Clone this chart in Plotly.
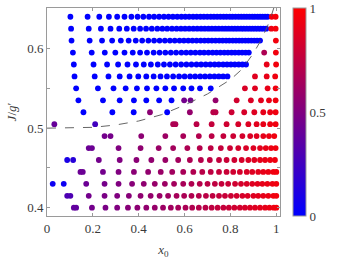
import plotly.graph_objects as go

# ---- data ----
J_values = [0.64, 0.625, 0.61, 0.595, 0.58, 0.565, 0.55, 0.535, 0.52,
            0.505, 0.49, 0.475, 0.46, 0.445, 0.43, 0.415, 0.40]

x_0640 = [0.102, 0.177, 0.228, 0.270, 0.306, 0.338, 0.368, 0.395, 0.420, 0.445, 0.467, 0.489,
          0.510, 0.530, 0.549, 0.568, 0.586, 0.603, 0.620, 0.637, 0.653, 0.669, 0.684, 0.699,
          0.714, 0.728, 0.742, 0.756, 0.770, 0.783, 0.797, 0.809, 0.822, 0.835, 0.847, 0.859,
          0.871, 0.883, 0.895, 0.906, 0.918, 0.929, 0.940, 0.951, 0.962, 0.980, 0.997]
c_0640 = [0] * 45 + [0.93, 0.96]

x_0625 = [0.105, 0.182, 0.235, 0.277, 0.315, 0.348, 0.378, 0.406, 0.432, 0.457, 0.481, 0.503,
          0.524, 0.545, 0.565, 0.584, 0.602, 0.620, 0.638, 0.655, 0.672, 0.688, 0.704, 0.719,
          0.734, 0.749, 0.764, 0.778, 0.792, 0.806, 0.819, 0.832, 0.846, 0.858, 0.871, 0.884,
          0.896, 0.908, 0.920, 0.932, 0.944, 0.956, 0.978, 0.997]
c_0625 = [0] * 42 + [0.93, 0.96]

x_0610 = [0.107, 0.186, 0.240, 0.284, 0.322, 0.356, 0.387, 0.415, 0.442, 0.467, 0.491, 0.514,
          0.536, 0.557, 0.578, 0.597, 0.616, 0.634, 0.652, 0.670, 0.687, 0.703, 0.719, 0.735,
          0.751, 0.766, 0.781, 0.795, 0.810, 0.824, 0.838, 0.851, 0.865, 0.878, 0.891, 0.904,
          0.916, 0.929, 0.998]
c_0610 = [0] * 38 + [0.95]

x_0595 = [0.113, 0.195, 0.252, 0.298, 0.338, 0.374, 0.406, 0.436, 0.465, 0.491, 0.516, 0.540,
          0.563, 0.586, 0.607, 0.627, 0.647, 0.667, 0.685, 0.704, 0.722, 0.739, 0.756, 0.773,
          0.789, 0.805, 0.820, 0.836, 0.851, 0.866, 0.880, 0.947, 0.998]
c_0595 = [0] * 31 + [0.68, 0.95]

x_0580 = [0.117, 0.203, 0.262, 0.310, 0.351, 0.388, 0.422, 0.453, 0.483, 0.510, 0.536, 0.561,
          0.585, 0.608, 0.630, 0.652, 0.672, 0.692, 0.712, 0.731, 0.749, 0.768, 0.785, 0.802,
          0.819, 0.836, 0.852, 0.868, 0.958, 0.999]
c_0580 = [0] * 28 + [0.91, 0.95]

x_0565 = [0.120, 0.208, 0.268, 0.317, 0.360, 0.398, 0.433, 0.465, 0.495, 0.523, 0.550, 0.576,
          0.600, 0.624, 0.646, 0.668, 0.689, 0.710, 0.730, 0.749, 0.768, 0.787,
          0.907, 0.958, 0.995]
c_0565 = [0] * 22 + [0.88, 0.91, 0.94]

x_0550 = [0.127, 0.222, 0.290, 0.343, 0.392, 0.436, 0.477, 0.516, 0.554, 0.594, 0.630, 0.667,
          0.714, 0.863, 0.907, 0.962, 0.997]
c_0550 = [0] * 13 + [0.85, 0.88, 0.91, 0.94]

x_0535 = [0.137, 0.244, 0.317, 0.379, 0.433, 0.489, 0.543, 0.598, 0.626, 0.735,
          0.827, 0.889, 0.933, 0.968, 0.997]
c_0535 = [0, 0, 0, 0, 0, 0, 0, 0.45, 0.45, 0.58, 0.82, 0.86, 0.89, 0.92, 0.94]

x_0520 = [0.159, 0.285, 0.378, 0.449, 0.524, 0.623, 0.725, 0.735,
          0.805, 0.860, 0.904, 0.943, 0.973, 0.997]
c_0520 = [0, 0, 0, 0.55, 0, 0.58, 0.72, 0.72, 0.80, 0.84, 0.87, 0.90, 0.92, 0.94]

x_0505 = [0.032, 0.210, 0.550, 0.560, 0.652, 0.718, 0.783, 0.834, 0.878, 0.914, 0.943, 0.973, 0.997]
c_0505 = [0.40, 0.25, 0.68, 0.68, 0.73, 0.77, 0.81, 0.84, 0.87, 0.89, 0.91, 0.93, 0.94]

x_0490 = [0.251, 0.277, 0.411, 0.516, 0.594, 0.662, 0.718, 0.769, 0.812, 0.852, 0.886, 0.914,
          0.943, 0.968, 0.991]
c_0490 = [0.45, 0.46, 0.55, 0.61, 0.66, 0.70, 0.73, 0.77, 0.80, 0.83, 0.86, 0.88, 0.90, 0.92, 0.94]

x_0475 = [0.182, 0.196, 0.312, 0.408, 0.487, 0.550, 0.612, 0.666, 0.714, 0.758, 0.798, 0.834,
          0.868, 0.900, 0.929, 0.954, 0.977, 0.997]
c_0475 = [0.42, 0.42, 0.50, 0.56, 0.60, 0.64, 0.68, 0.71, 0.74, 0.77, 0.80, 0.83, 0.85, 0.87,
          0.89, 0.91, 0.93, 0.94]

x_0460 = [0.088, 0.114, 0.226, 0.317, 0.390, 0.455, 0.516, 0.572, 0.623, 0.671, 0.710, 0.750,
          0.783, 0.817, 0.849, 0.878, 0.904, 0.929, 0.951, 0.973, 0.994]
c_0460 = [0.10, 0.15, 0.45, 0.50, 0.54, 0.57, 0.60, 0.64, 0.68, 0.71, 0.74, 0.76, 0.79, 0.81,
          0.84, 0.86, 0.88, 0.90, 0.91, 0.93, 0.94]

x_0445 = [0.146, 0.156, 0.244, 0.312, 0.379, 0.441, 0.496, 0.546, 0.594, 0.638, 0.677, 0.714,
          0.750, 0.783, 0.812, 0.841, 0.871, 0.895, 0.921, 0.943, 0.965, 0.987, 1.000]
c_0445 = [0.42, 0.42, 0.45, 0.50, 0.54, 0.57, 0.60, 0.63, 0.66, 0.69, 0.72, 0.74, 0.77, 0.79,
          0.81, 0.83, 0.85, 0.87, 0.89, 0.91, 0.92, 0.94, 0.95]

x_0430 = [0.025, 0.073, 0.171, 0.251, 0.312, 0.371, 0.422, 0.470, 0.514, 0.554, 0.594, 0.630,
          0.666, 0.700, 0.732, 0.761, 0.790, 0.820, 0.846, 0.871, 0.895, 0.918, 0.939, 0.961,
          0.983, 1.000]
c_0430 = [0.05, 0.05, 0.42, 0.46, 0.50, 0.53, 0.56, 0.59, 0.61, 0.64, 0.66, 0.69, 0.71, 0.73,
          0.75, 0.77, 0.79, 0.81, 0.83, 0.85, 0.87, 0.89, 0.90, 0.92, 0.93, 0.95]

x_0415 = [0.088, 0.102, 0.182, 0.251, 0.306, 0.357, 0.408, 0.452, 0.491, 0.528, 0.565, 0.598,
          0.630, 0.662, 0.693, 0.722, 0.750, 0.776, 0.802, 0.827, 0.852, 0.875, 0.900, 0.921,
          0.943, 0.965, 0.987, 1.000]
c_0415 = [0.30, 0.30, 0.45, 0.48, 0.50, 0.53, 0.56, 0.58, 0.60, 0.62, 0.65, 0.67, 0.69, 0.71,
          0.73, 0.75, 0.77, 0.78, 0.80, 0.82, 0.84, 0.86, 0.87, 0.89, 0.90, 0.92, 0.94, 0.95]

x_0400 = [0.117, 0.127, 0.196, 0.255, 0.306, 0.353, 0.394, 0.433, 0.470, 0.506, 0.540, 0.572,
          0.604, 0.633, 0.662, 0.691, 0.718, 0.744, 0.769, 0.793, 0.817, 0.841, 0.863, 0.885,
          0.907, 0.929, 0.951, 0.970, 0.989, 1.000]
c_0400 = [0.38, 0.38, 0.45, 0.48, 0.50, 0.53, 0.55, 0.57, 0.59, 0.61, 0.63, 0.65, 0.67, 0.69,
          0.71, 0.72, 0.74, 0.76, 0.77, 0.79, 0.81, 0.82, 0.84, 0.86, 0.87, 0.89, 0.90, 0.92,
          0.93, 0.95]

# dashed boundary curve
curve_x = [0.0, 0.1, 0.2, 0.3, 0.4, 0.5, 0.6, 0.7, 0.8, 0.85, 0.9, 0.93, 0.96, 0.98, 0.99]
curve_J = [0.5, 0.5003, 0.501, 0.504, 0.509, 0.517, 0.529, 0.543, 0.561, 0.574, 0.594,
           0.609, 0.627, 0.643, 0.652]

x_ticks = [0, 0.2, 0.4, 0.6, 0.8, 1.0]
x_tick_labels = ["0", "0.2", "0.4", "0.6", "0.8", "1"]
y_ticks = [0.4, 0.5, 0.6]
y_tick_labels = ["0.4", "0.5", "0.6"]
cbar_ticks = [0, 0.5, 1]
cbar_labels = ["0", "0.5", "1"]

rows_x = [x_0640, x_0625, x_0610, x_0595, x_0580, x_0565, x_0550, x_0535, x_0520,
          x_0505, x_0490, x_0475, x_0460, x_0445, x_0430, x_0415, x_0400]
rows_c = [c_0640, c_0625, c_0610, c_0595, c_0580, c_0565, c_0550, c_0535, c_0520,
          c_0505, c_0490, c_0475, c_0460, c_0445, c_0430, c_0415, c_0400]

px, py, pc = [], [], []
for J, xs, cs in zip(J_values, rows_x, rows_c):
    px.extend(xs)
    py.extend([J] * len(xs))
    pc.extend(cs)

FONT = "Liberation Serif"
GRAY = "#9a9a9a"
TXT = "#3a3a3a"

fig = go.Figure()
fig.add_trace(go.Scatter(
    x=px, y=py, mode="markers",
    marker=dict(size=5.8, color=pc, cmin=0, cmax=1,
                colorscale=[[0, "rgb(0,0,255)"], [1, "rgb(255,0,0)"]],
                line=dict(width=0),
                colorbar=dict(thickness=13, len=1, lenmode="fraction", y=0.5, yanchor="middle",
                              x=1.056, xanchor="left", xpad=0, ypad=0,
                              outlinecolor=GRAY, outlinewidth=1,
                              tickvals=cbar_ticks, ticktext=cbar_labels, ticks="",
                              tickfont=dict(family=FONT, size=13, color=TXT))),
    showlegend=False, hoverinfo="skip"))
fig.add_trace(go.Scatter(
    x=curve_x, y=curve_J, mode="lines",
    line=dict(color="#555555", width=0.9, dash="dash"),
    showlegend=False, hoverinfo="skip"))

fig.update_layout(
    width=345, height=262,
    margin=dict(l=47, r=65, t=7, b=42),
    paper_bgcolor="white", plot_bgcolor="white",
    font=dict(family=FONT, size=13, color=TXT),
    xaxis=dict(range=[0, 1.016], tickvals=x_ticks, ticktext=x_tick_labels,
               showgrid=False, zeroline=False, showline=True, mirror="ticks",
               linecolor=GRAY, linewidth=1, ticks="inside", ticklen=3, tickcolor=GRAY,
               tickfont=dict(family=FONT, size=13, color=TXT),
               title=dict(text="<i>x</i><sub>0</sub>", standoff=10,
                          font=dict(family=FONT, size=13, color=TXT))),
    yaxis=dict(range=[0.3896, 0.651], tickvals=y_ticks, ticktext=y_tick_labels,
               showgrid=False, zeroline=False, showline=True, mirror="ticks",
               linecolor=GRAY, linewidth=1, ticks="inside", ticklen=3, tickcolor=GRAY,
               minor=dict(dtick=0.05, tick0=0.4, ticks="inside", ticklen=3, tickcolor=GRAY),
               tickfont=dict(family=FONT, size=13, color=TXT),
               title=dict(text="<i>J</i>/<i>g</i>\u2032", standoff=7,
                          font=dict(family=FONT, size=13, color=TXT))),
)

fig.write_html("out.html", config={"displayModeBar": False},
               post_script="document.body.style.margin='0';document.body.style.overflow='hidden';")
